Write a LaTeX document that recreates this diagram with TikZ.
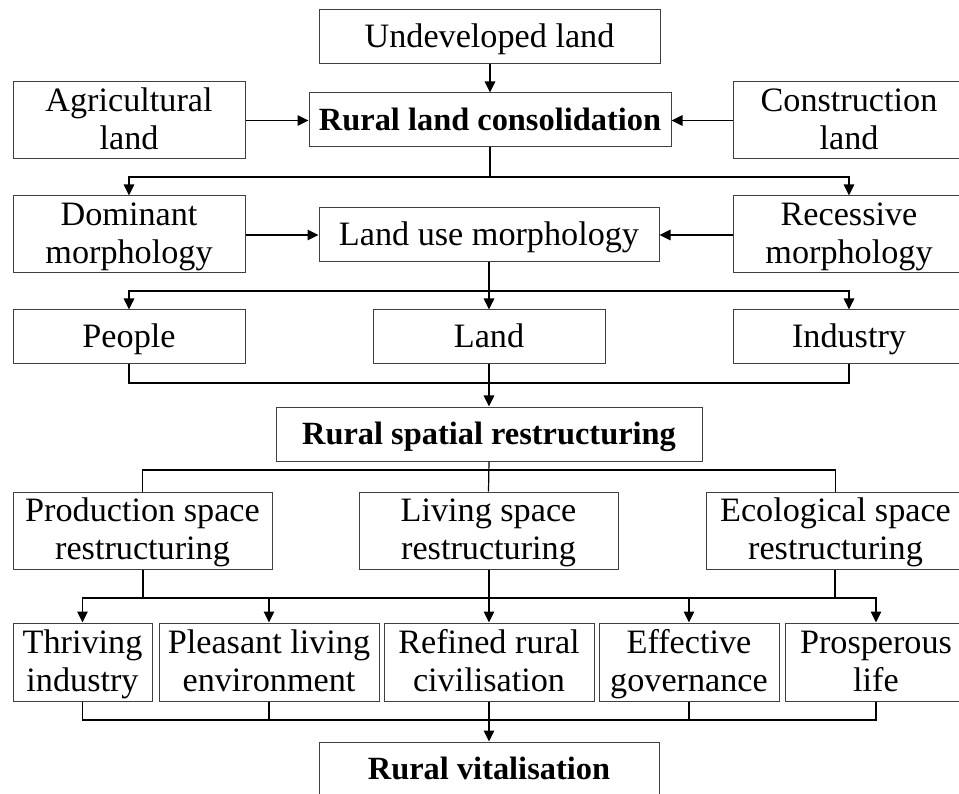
\documentclass[tikz,border=0pt]{standalone}
\usepackage{fontspec}
\setmainfont{Liberation Serif}
\usetikzlibrary{arrows.meta}
\begin{document}
\begin{tikzpicture}[x=1pt,y=-1pt,
  box/.style={draw=black!75, line width=1pt, rectangle, inner sep=0pt,
    align=center, font=\fontsize{34.2}{37.7}\selectfont,
    text height=28pt, text depth=7.5pt},
  twoline/.style={box, text height=65.7pt, minimum height=77},
  boldbox/.style={box, font=\fontsize{32.4}{37.7}\selectfont\bfseries},
  link/.style={draw=black, line width=1.2pt},
  arr/.style={link, -{Triangle[length=11pt,width=10.5pt]}}]
\useasboundingbox (0,0) rectangle (959,794);
\clip (0,0) rectangle (959,794);
\fill[white] (0,0) rectangle (959,794);

% consolidation tier
\node[box, minimum width=341, minimum height=54] (und) at (489.5,37) {Undeveloped land};
\node[twoline, minimum width=232] (agr) at (129,120.5) {Agricultural\\land};
\node[boldbox, minimum width=362, minimum height=54] (rlc) at (490,120) {Rural land consolidation};
\node[twoline, minimum width=232] (con) at (849,120.5) {Construction\\land};

% morphology tier
\node[twoline, minimum width=232] (dom) at (129,234.5) {Dominant\\morphology};
\node[box, minimum width=340, minimum height=54] (lum) at (489,235) {Land use morphology};
\node[twoline, minimum width=232] (rec) at (849,234.5) {Recessive\\morphology};

% elements
\node[box, minimum width=232, minimum height=54] (peo) at (129,337) {People};
\node[box, minimum width=232, minimum height=54] (lan) at (489,337) {Land};
\node[box, minimum width=232, minimum height=54] (ind) at (849,337) {Industry};

% spatial restructuring
\node[boldbox, minimum width=426, minimum height=54] (rsr) at (489,434) {Rural spatial restructuring};
\node[twoline, minimum width=259] (pro) at (142.5,530.5) {Production space\\restructuring};
\node[twoline, minimum width=259] (liv) at (488.5,530.5) {Living space\\restructuring};
\node[twoline, minimum width=259] (eco) at (835.5,530.5) {Ecological space\\restructuring};

% goals
\node[twoline, minimum width=139, minimum height=78] (thr) at (82.5,662) {Thriving\\industry};
\node[twoline, minimum width=220, minimum height=78] (ple) at (269,662) {Pleasant living\\environment};
\node[twoline, minimum width=210, minimum height=78] (ref) at (489,662) {Refined rural\\civilisation};
\node[twoline, minimum width=180, minimum height=78] (eff) at (689,662) {Effective\\governance};
\node[twoline, minimum width=182, minimum height=78] (pros) at (876,662) {Prosperous\\life};

\node[boldbox, minimum width=340, minimum height=54] (vit) at (489,769) {Rural vitalisation};

% junction points
\coordinate (j1) at (490,177);
\coordinate (j2) at (489,291);
\coordinate (j3) at (489,383);
\coordinate (j4) at (489,470);
\coordinate (pj) at (143,598);
\coordinate (ej) at (835,598);
\coordinate (j6) at (489,720);

% connectors
\draw[arr] (und.south -| rlc.north) -- (rlc.north);
\draw[arr] (agr.east) -- (agr.east -| rlc.west);
\draw[arr] (con.west) -- (con.west -| rlc.east);
\draw[link] (rlc.south) -- (j1);
\draw[arr] (j1) -| (dom.north);
\draw[arr] (j1) -| (rec.north);

\draw[arr] (dom.east |- lum.west) -- (lum.west);
\draw[arr] (rec.west |- lum.east) -- (lum.east);
\draw[arr] (lum.south) -- (lan.north);
\draw[arr] (j2) -| (peo.north);
\draw[arr] (j2) -| (ind.north);

\draw[link] (peo.south) |- (j3);
\draw[link] (ind.south) |- (j3);
\draw[arr] (lan.south) -- (rsr.north);

\draw[link] (rsr.south) -- (liv.north);
\draw[link] (j4) -| (pro.north);
\draw[link] (j4) -| (eco.north);

\draw[link] (pro.south -| pj) -- (pj);
\draw[link] (eco.south -| ej) -- (ej);
\draw[link] (pj) -- (ej);
\draw[arr] (pj) -| (thr.north);
\draw[arr] (pj) -| (ple.north);
\draw[arr] (ej) -| (eff.north);
\draw[arr] (ej) -| (pros.north);
\draw[arr] (liv.south -| ref.north) -- (ref.north);

\draw[link] (thr.south) |- (j6);
\draw[link] (ple.south) |- (j6);
\draw[link] (eff.south) |- (j6);
\draw[link] (pros.south) |- (j6);
\draw[arr] (ref.south) -- (vit.north);
\end{tikzpicture}
\end{document}
